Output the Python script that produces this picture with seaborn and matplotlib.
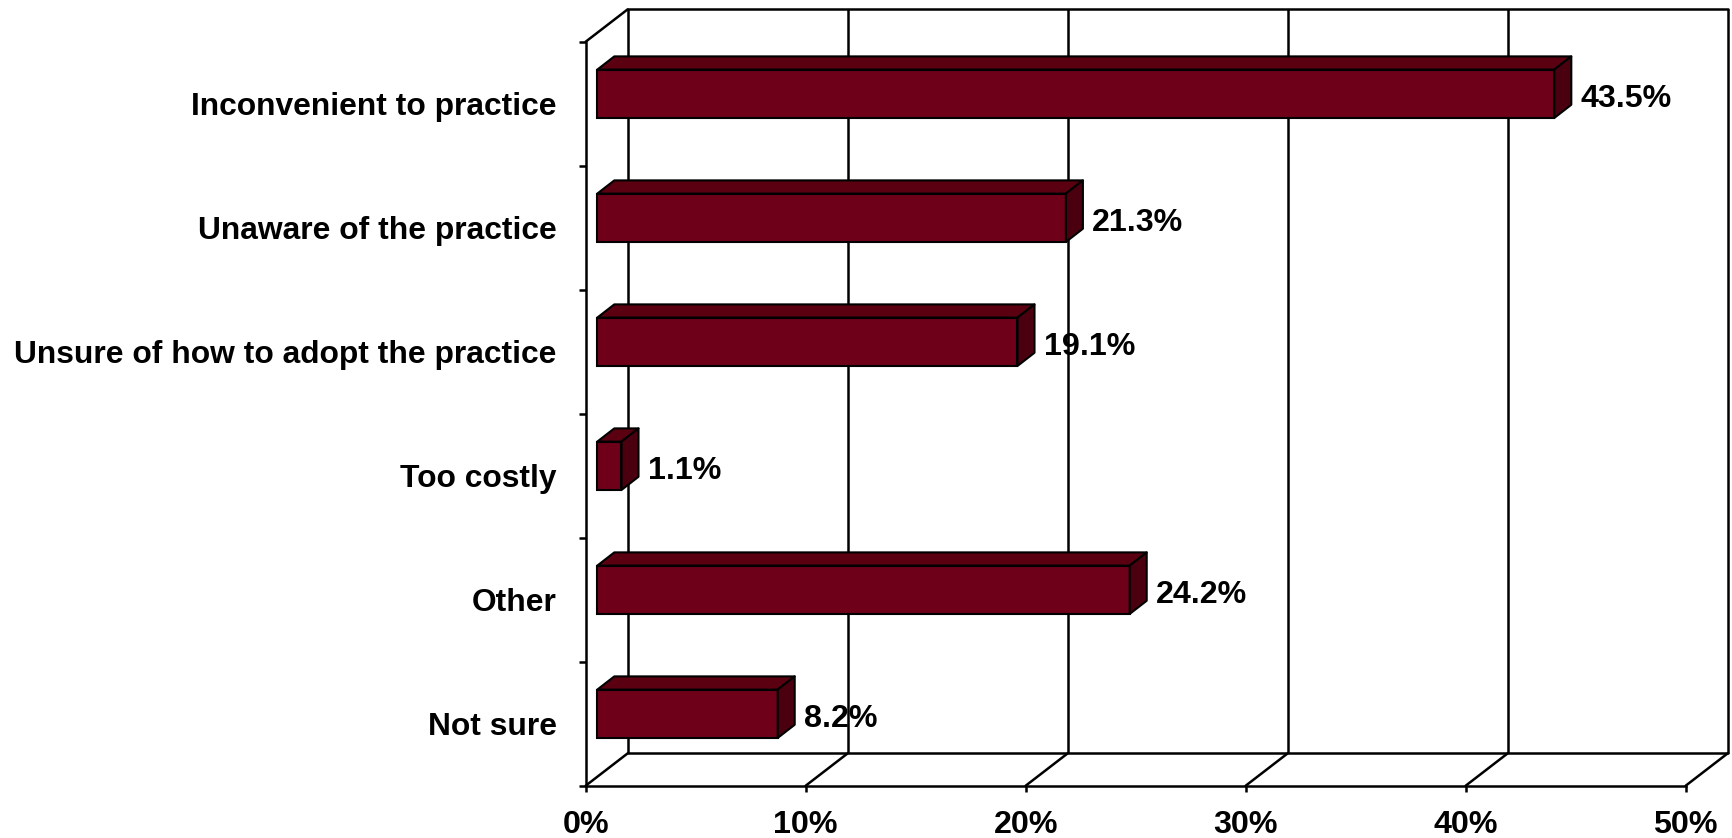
import matplotlib
matplotlib.use("Agg")
import matplotlib.pyplot as plt
from matplotlib.patches import Polygon
from matplotlib.ticker import FixedLocator, FuncFormatter
import seaborn as sns
import pandas as pd

# Survey answers: reasons for not adopting the practice (% of respondents)
categories = [
    "Inconvenient to practice",
    "Unaware of the practice",
    "Unsure of how to adopt the practice",
    "Too costly",
    "Other",
    "Not sure",
]
values = [43.5, 21.3, 19.1, 1.1, 24.2, 8.2]
x_ticks = [0, 10, 20, 30, 40, 50]

df = pd.DataFrame({"reason": categories, "share": values})

sns.set_theme(style="white")
plt.rcParams["font.family"] = ["Liberation Sans", "DejaVu Sans"]
plt.rcParams["font.weight"] = "bold"

FRONT = "#6F0019"
TOP = "#5A0011"
SIDE = "#4B0010"
LINE = "black"
FS = 23.2       # value labels and x tick labels
FS_CAT = 22.9   # category labels

fig = plt.figure(figsize=(17.33, 8.38), dpi=100)
ax = fig.add_axes([0.33797, 0.06241, 0.63474, 0.88783])

sns.barplot(data=df, x="share", y="reason", orient="h", color=FRONT,
            width=0.39, edgecolor=LINE, linewidth=1.5, saturation=1,
            ax=ax, zorder=5)

ax.set_xlim(0, 50)
ax.set_ylim(5.5, -0.5)

# 3-D offsets in data units (x: percent, y: category slots)
wall_dx, wall_dy = 1.909, -0.261      # depth of floor / back wall
bar_dx, bar_dy = 0.527, -0.080        # bar front face sits inside the box
dep_dx, dep_dy = 0.773, -0.1065       # bar depth

lw = 1.8
top_y = -0.5
bot_y = 5.5

# back wall gridlines and floor diagonals
for xv in x_ticks:
    ax.plot([xv + wall_dx, xv + wall_dx], [top_y + wall_dy, bot_y + wall_dy],
            color=LINE, lw=lw, clip_on=False, zorder=1, solid_capstyle="butt")
    ax.plot([xv, xv + wall_dx], [bot_y, bot_y + wall_dy],
            color=LINE, lw=lw, clip_on=False, zorder=1)
ax.plot([wall_dx, 50 + wall_dx], [top_y + wall_dy, top_y + wall_dy],
        color=LINE, lw=lw, clip_on=False, zorder=1)
ax.plot([wall_dx, 50 + wall_dx], [bot_y + wall_dy, bot_y + wall_dy],
        color=LINE, lw=lw, clip_on=False, zorder=1)
ax.plot([0, wall_dx], [top_y, top_y + wall_dy],
        color=LINE, lw=lw, clip_on=False, zorder=1)

# extrude each bar into a box
for patch, val in zip(ax.patches, values):
    patch.set_x(patch.get_x() + bar_dx)
    patch.set_y(patch.get_y() + bar_dy)
    x0 = patch.get_x()
    x1 = x0 + patch.get_width()
    yt = patch.get_y()
    yb = yt + patch.get_height()
    top = Polygon([(x0, yt), (x1, yt), (x1 + dep_dx, yt + dep_dy),
                   (x0 + dep_dx, yt + dep_dy)], closed=True,
                  facecolor=TOP, edgecolor=LINE, lw=1.5, zorder=6,
                  clip_on=False, joinstyle="round")
    side = Polygon([(x1, yt), (x1 + dep_dx, yt + dep_dy),
                    (x1 + dep_dx, yb + dep_dy), (x1, yb)], closed=True,
                   facecolor=SIDE, edgecolor=LINE, lw=1.5, zorder=6,
                   clip_on=False, joinstyle="round")
    ax.add_patch(top)
    ax.add_patch(side)
    ax.annotate(f"{val:.1f}%", xy=(x1 + dep_dx, (yt + yb) / 2),
                xytext=(9, -5), textcoords="offset pixels",
                ha="left", va="center", fontsize=FS, fontweight="bold",
                color="black", zorder=7, annotation_clip=False)

# axes frame: only the front-left and front-bottom edges
for side_name in ("top", "right"):
    ax.spines[side_name].set_visible(False)
for side_name in ("left", "bottom"):
    ax.spines[side_name].set_color(LINE)
    ax.spines[side_name].set_linewidth(lw)
    ax.spines[side_name].set_zorder(2)

ax.xaxis.set_major_locator(FixedLocator(x_ticks))
ax.xaxis.set_major_formatter(FuncFormatter(lambda v, _: f"{v:.0f}%"))
ax.tick_params(axis="x", which="major", length=4.5, width=lw, color=LINE,
               direction="out", bottom=True, pad=13, labelsize=FS)
ax.yaxis.set_minor_locator(FixedLocator([i - 0.5 for i in range(len(categories) + 1)]))
ax.tick_params(axis="y", which="minor", length=5, width=lw, color=LINE,
               direction="out", left=True)
ax.tick_params(axis="y", which="major", length=0, pad=21, labelsize=FS_CAT)
for lab in ax.get_xticklabels() + ax.get_yticklabels():
    lab.set_fontweight("bold")
    lab.set_color("black")

ax.set_xlabel("")
ax.set_ylabel("")
ax.grid(False)

fig.savefig("out.png", dpi=100)
